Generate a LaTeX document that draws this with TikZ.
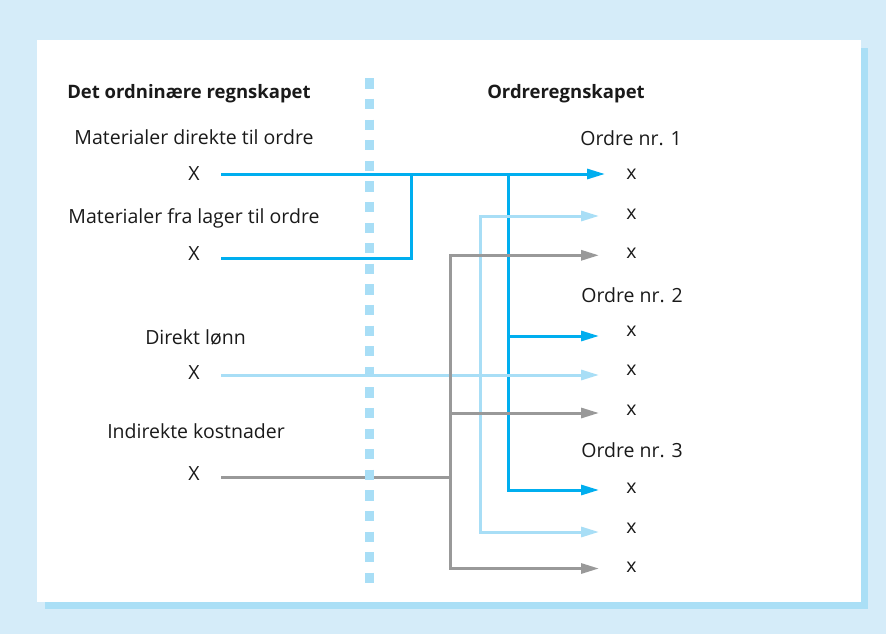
\documentclass[tikz,border=0pt]{standalone}
\usepackage{fontspec}
\setmainfont{Open Sans}
\usetikzlibrary{arrows.meta}

\definecolor{pagebg}{HTML}{D5ECF9}
\definecolor{shadowbg}{HTML}{AADFF6}
\definecolor{lineblue}{HTML}{00AEEF}
\definecolor{linelight}{HTML}{A8DEF6}
\definecolor{linegray}{HTML}{999999}
\definecolor{divider}{HTML}{A8DEF6}
\definecolor{ink}{HTML}{1A1A1A}

\tikzset{
  label/.style={font=\fontsize{19.5}{22}\selectfont, text=ink, inner sep=0pt, anchor=base},
  heading/.style={label, font=\fontsize{18.5}{22}\selectfont\bfseries},
  flow/.style={line width=3pt},
  tip/.style={-{Triangle[length=18pt,width=10pt]}},
  bothtips/.style={{Triangle[length=18pt,width=10pt]}-{Triangle[length=18pt,width=10pt]}},
}

\begin{document}
\begin{tikzpicture}[x=1pt,y=-1pt]
  % frame: page, shadow and white panel
  \fill[pagebg] (0,0) rectangle (886,634);
  \fill[shadowbg] (45,48) rectangle (868,609);
  \fill[white] (37,40) rectangle (861,602);
  \useasboundingbox (0,0) rectangle (886,634);

  % headings
  \node[heading] (hleft) at (189,98) {Det ordninære regnskapet};
  \node[heading] (hright) at (566,98) {Ordreregnskapet};

  % left column: cost types
  \node[label] (m1) at (194,144) {Materialer direkte til ordre};
  \node[label] (lx1) at (194,180) {X};
  \node[label] (m2) at (194,223) {Materialer fra lager til ordre};
  \node[label] (lx2) at (194,260) {X};
  \node[label] (m3) at (195.5,344) {Direkt lønn};
  \node[label] (lx3) at (194,379) {X};
  \node[label] (m4) at (196,438) {Indirekte kostnader};
  \node[label] (lx4) at (194,480) {X};

  % right column: orders
  \node[label] (o1) at (631,145) {Ordre nr. 1};
  \node[label] (r1) at (631.5,179) {x};
  \node[label] (r2) at (631.5,219) {x};
  \node[label] (r3) at (631.5,258) {x};
  \node[label] (o2) at (632,302) {Ordre nr. 2};
  \node[label] (r4) at (631.5,336) {x};
  \node[label] (r5) at (631.5,375) {x};
  \node[label] (r6) at (631.5,415) {x};
  \node[label] (o3) at (632,457) {Ordre nr. 3};
  \node[label] (r7) at (631.5,493) {x};
  \node[label] (r8) at (631.5,533) {x};
  \node[label] (r9) at (631.5,572) {x};

  % line starts next to the left X entries
  \coordinate (s1) at (221,174);
  \coordinate (s2) at (221,258.5);
  \coordinate (s3) at (221,375);
  \coordinate (s4) at (221,477);
  % arrow tips in front of the right x entries
  \coordinate (t1) at (605,174);
  \coordinate (t2) at (599,216);
  \coordinate (t3) at (599,255.3);
  \coordinate (t4) at (599,336);
  \coordinate (t5) at (599,375);
  \coordinate (t6) at (599,413);
  \coordinate (t7) at (599,490);
  \coordinate (t8) at (599,532);
  \coordinate (t9) at (599,568.5);
  % vertical distribution lines
  \coordinate (jA) at (411.5,0);
  \coordinate (jB) at (508.5,0);
  \coordinate (jC) at (480.5,0);
  \coordinate (jD) at (450,0);

  % materials (blue)
  \draw[flow, lineblue, tip] (s1) -- (t1);
  \draw[flow, lineblue] (s2) -| (jA |- s1);
  \draw[flow, lineblue, tip] (jB |- t1) |- (t7);
  \draw[flow, lineblue, tip] (jB |- t4) -- (t4);

  % direct wages (light blue)
  \draw[flow, linelight, tip] (s3) -- (t5);
  \draw[flow, linelight, bothtips] (t2) -| (jC |- t8) -- (t8);

  % indirect costs (gray)
  \draw[flow, linegray] (s4) -- (jD |- s4);
  \draw[flow, linegray, bothtips] (t3) -| (jD |- t9) -- (t9);
  \draw[flow, linegray, tip] (jD |- t6) -- (t6);

  % dotted divider between the two ledgers
  \coordinate (dtop) at (369.5,78.3);
  \coordinate (dbot) at (369.5,583.3);
  \draw[divider, line width=9pt, dash pattern=on 10.3pt off 10.3pt] (dtop) -- (dbot);
\end{tikzpicture}
\end{document}
